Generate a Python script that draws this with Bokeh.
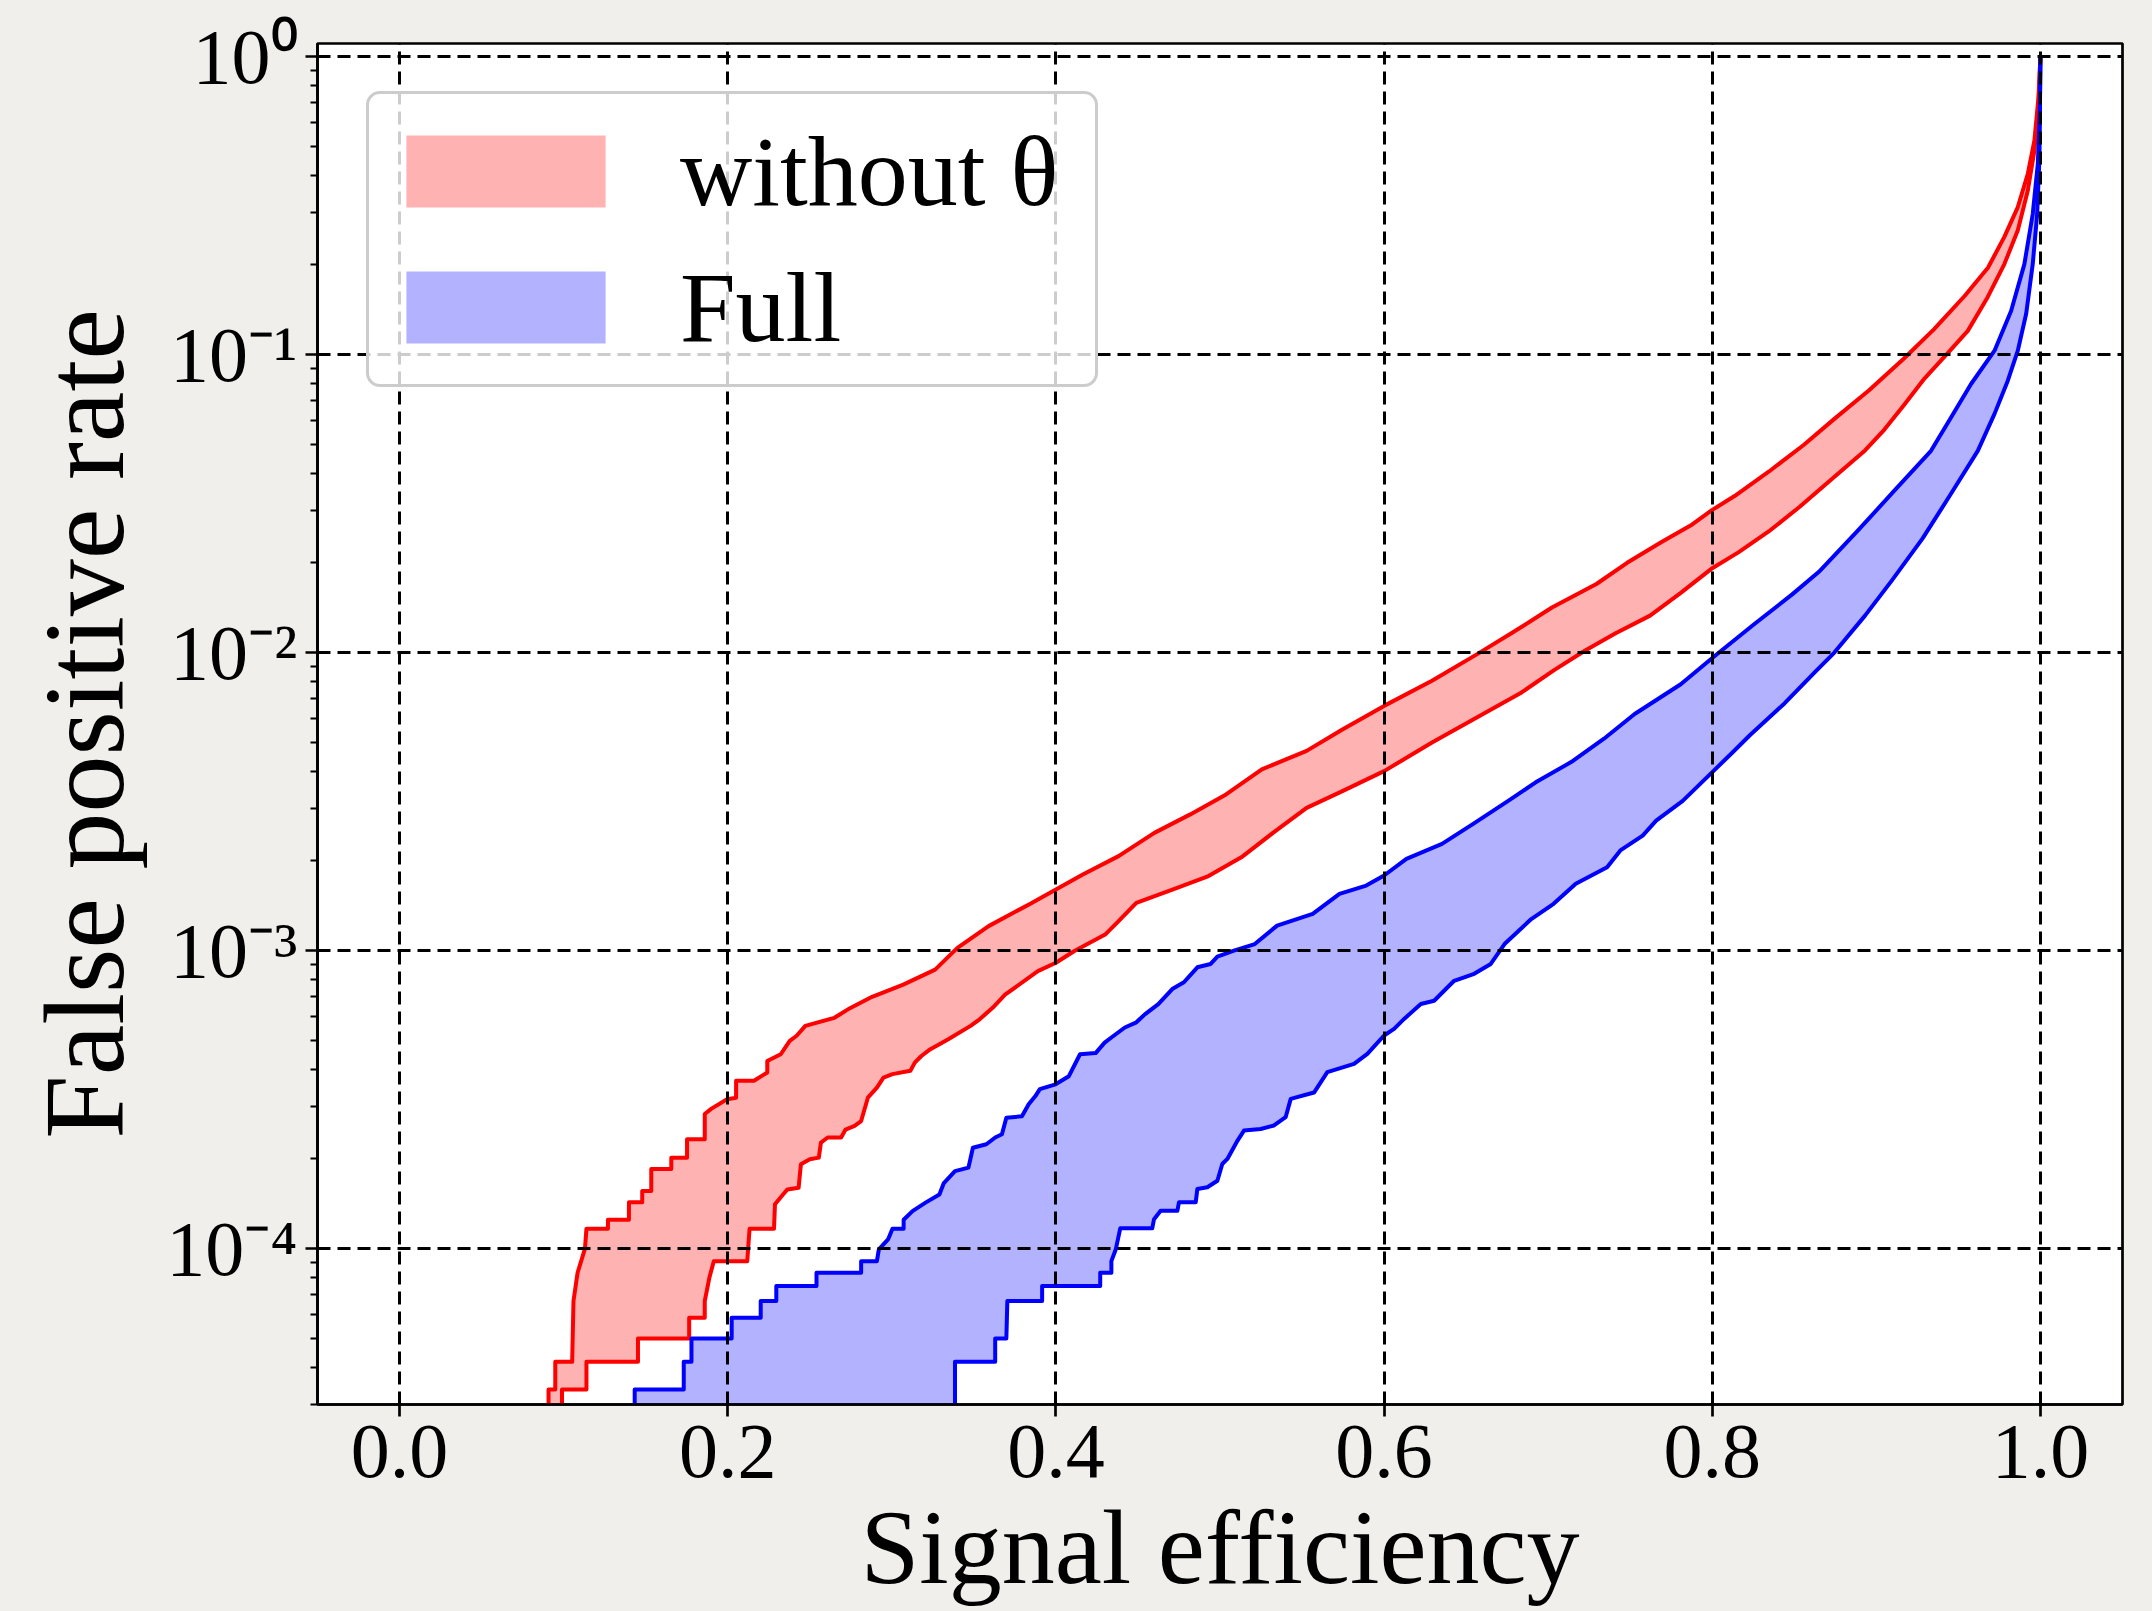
from bokeh.plotting import figure
from bokeh.models import (Range1d, FixedTicker, PrintfTickFormatter, Legend, LegendItem)
from bokeh.embed import file_html
from bokeh.resources import INLINE

# ---------------- data ----------------
# "without theta" band: upper (left) boundary
eff_red_upper = [0.0908, 0.0908, 0.0949, 0.0949, 0.1052, 0.1060, 0.1085, 0.1130, 0.1139, 0.1270,
                 0.1270, 0.1398, 0.1398, 0.1479, 0.1479, 0.1534, 0.1534, 0.1656, 0.1656, 0.1752,
                 0.1752, 0.1860, 0.1860, 0.1901, 0.1996, 0.2051, 0.2051, 0.2160, 0.2241, 0.2241,
                 0.2323, 0.2378, 0.2420, 0.2473, 0.2650, 0.2745, 0.2880, 0.3070, 0.3264, 0.3400,
                 0.3590, 0.3836, 0.4000, 0.4164, 0.4382, 0.4600, 0.4819, 0.5037, 0.5255, 0.5528,
                 0.5746, 0.6000, 0.6292, 0.6565, 0.6783, 0.7023, 0.7294, 0.7481, 0.7691, 0.7878,
                 0.8000, 0.8136, 0.8346, 0.8557, 0.8744, 0.8954, 0.9165, 0.9352, 0.9539, 0.9680,
                 0.9780, 0.9862, 0.9923, 0.9963, 0.9988, 1.0]
fpr_red_upper = [2.5e-5, 3.37e-5, 3.37e-5, 4.17e-5, 4.17e-5, 6.67e-5, 8.3e-5, 1.0e-4, 1.166e-4, 1.166e-4,
                 1.25e-4, 1.25e-4, 1.43e-4, 1.43e-4, 1.56e-4, 1.56e-4, 1.85e-4, 1.85e-4, 2.02e-4, 2.02e-4,
                 2.33e-4, 2.33e-4, 2.83e-4, 2.95e-4, 3.17e-4, 3.21e-4, 3.66e-4, 3.66e-4, 3.9e-4, 4.26e-4,
                 4.49e-4, 4.98e-4, 5.18e-4, 5.59e-4, 5.95e-4, 6.41e-4, 7.0e-4, 7.69e-4, 8.63e-4, 1.021e-3,
                 1.208e-3, 1.429e-3, 1.603e-3, 1.799e-3, 2.075e-3, 2.483e-3, 2.864e-3, 3.342e-3, 4.055e-3, 4.677e-3,
                 5.521e-3, 6.622e-3, 8.04e-3, 9.86e-3, 1.167e-2, 1.416e-2, 1.698e-2, 2.0e-2, 2.35e-2, 2.69e-2,
                 3.01e-2, 3.35e-2, 4.05e-2, 4.97e-2, 6.08e-2, 7.57e-2, 9.66e-2, 0.1216, 0.1574, 0.1954,
                 0.248, 0.312, 0.404, 0.522, 0.729, 1.0]

# "without theta" band: lower (right) boundary
eff_red_lower = [0.0990, 0.0990, 0.1139, 0.1139, 0.1453, 0.1453, 0.1765, 0.1765, 0.1860, 0.1860,
                 0.1888, 0.1915, 0.2119, 0.2133, 0.2282, 0.2288, 0.2337, 0.2364, 0.2432, 0.2446,
                 0.2500, 0.2555, 0.2568, 0.2609, 0.2691, 0.2718, 0.2773, 0.2813, 0.2854, 0.2909,
                 0.2949, 0.3004, 0.3113, 0.3140, 0.3180, 0.3235, 0.3290, 0.3344, 0.3480, 0.3535,
                 0.3616, 0.3690, 0.3890, 0.4000, 0.4110, 0.4300, 0.4382, 0.4490, 0.4710, 0.4930,
                 0.5130, 0.5337, 0.5528, 0.5746, 0.6000, 0.6292, 0.6565, 0.6838, 0.7036, 0.7223,
                 0.7411, 0.7621, 0.7808, 0.8000, 0.8159, 0.8346, 0.8533, 0.8720, 0.8931, 0.9049,
                 0.9171, 0.9293, 0.9435, 0.9557, 0.9679, 0.9780, 0.9862, 0.9923, 0.9963, 0.9988, 1.0]
fpr_red_lower = [2.5e-5, 3.37e-5, 3.37e-5, 4.17e-5, 4.17e-5, 5.0e-5, 5.0e-5, 5.86e-5, 5.86e-5, 6.67e-5,
                 7.98e-5, 9.08e-5, 9.08e-5, 1.166e-4, 1.166e-4, 1.41e-4, 1.52e-4, 1.58e-4, 1.60e-4, 1.92e-4,
                 1.995e-4, 2.02e-4, 2.27e-4, 2.36e-4, 2.36e-4, 2.51e-4, 2.58e-4, 2.68e-4, 3.21e-4, 3.47e-4,
                 3.75e-4, 3.85e-4, 3.95e-4, 4.21e-4, 4.43e-4, 4.67e-4, 4.85e-4, 5.04e-4, 5.59e-4, 5.88e-4,
                 6.44e-4, 7.11e-4, 8.53e-4, 9.10e-4, 9.95e-4, 1.132e-3, 1.256e-3, 1.445e-3, 1.603e-3, 1.778e-3,
                 2.056e-3, 2.518e-3, 3.013e-3, 3.428e-3, 4.0e-3, 4.99e-3, 6.05e-3, 7.35e-3, 8.73e-3, 1.014e-2,
                 1.161e-2, 1.33e-2, 1.585e-2, 1.919e-2, 2.168e-2, 2.553e-2, 3.083e-2, 3.784e-2, 4.764e-2, 5.6e-2,
                 6.8e-2, 8.3e-2, 0.101, 0.120, 0.156, 0.201, 0.261, 0.355, 0.483, 0.693, 1.0]

# "Full" band: upper (left) boundary
eff_blue_upper = [0.1433, 0.1433, 0.1732, 0.1732, 0.1779, 0.1779, 0.2024, 0.2024, 0.2201, 0.2201,
                  0.2296, 0.2296, 0.2541, 0.2541, 0.2813, 0.2813, 0.2909, 0.2921, 0.2977, 0.3004,
                  0.3072, 0.3072, 0.3126, 0.3208, 0.3290, 0.3317, 0.3385, 0.3467, 0.3494, 0.3576,
                  0.3630, 0.3671, 0.3698, 0.3793, 0.3834, 0.3875, 0.3902, 0.3998, 0.4079, 0.4147,
                  0.4242, 0.4297, 0.4338, 0.4420, 0.4487, 0.4542, 0.4624, 0.4709, 0.4780, 0.4862,
                  0.4943, 0.4984, 0.5085, 0.5212, 0.5348, 0.5565, 0.5728, 0.5891, 0.6000, 0.6136,
                  0.6353, 0.6543, 0.6761, 0.6924, 0.7140, 0.7340, 0.7527, 0.7808, 0.8000, 0.8253,
                  0.8487, 0.8650, 0.8884, 0.9118, 0.9333, 0.9455, 0.9577, 0.9720, 0.9821, 0.9902,
                  0.9953, 0.9984, 0.9996, 1.0]
fpr_blue_upper = [2.5e-5, 3.37e-5, 3.37e-5, 4.17e-5, 4.17e-5, 5.0e-5, 5.0e-5, 5.86e-5, 5.86e-5, 6.67e-5,
                  6.67e-5, 7.5e-5, 7.5e-5, 8.3e-5, 8.3e-5, 9.08e-5, 9.08e-5, 9.95e-5, 1.074e-4, 1.166e-4,
                  1.166e-4, 1.25e-4, 1.337e-4, 1.43e-4, 1.52e-4, 1.66e-4, 1.82e-4, 1.87e-4, 2.18e-4, 2.24e-4,
                  2.36e-4, 2.42e-4, 2.75e-4, 2.78e-4, 3.05e-4, 3.25e-4, 3.43e-4, 3.56e-4, 3.79e-4, 4.49e-4,
                  4.53e-4, 4.91e-4, 5.11e-4, 5.52e-4, 5.73e-4, 6.11e-4, 6.61e-4, 7.43e-4, 7.83e-4, 8.79e-4,
                  9.02e-4, 9.55e-4, 1.0e-3, 1.052e-3, 1.213e-3, 1.327e-3, 1.549e-3, 1.652e-3, 1.786e-3, 2.032e-3,
                  2.28e-3, 2.661e-3, 3.19e-3, 3.67e-3, 4.29e-3, 5.14e-3, 6.22e-3, 7.83e-3, 9.59e-3, 1.242e-2,
                  1.567e-2, 1.866e-2, 2.553e-2, 3.532e-2, 4.75e-2, 6.15e-2, 7.96e-2, 0.103, 0.140, 0.201,
                  0.296, 0.437, 0.643, 1.0]

# "Full" band: lower (right) boundary
eff_blue_lower = [0.3385, 0.3385, 0.3630, 0.3630, 0.3698, 0.3704, 0.3916, 0.3916, 0.4270, 0.4270,
                  0.4338, 0.4338, 0.4365, 0.4392, 0.4587, 0.4598, 0.4638, 0.4740, 0.4750, 0.4852,
                  0.4862, 0.4923, 0.4984, 0.5014, 0.5045, 0.5106, 0.5146, 0.5248, 0.5329, 0.5400,
                  0.5431, 0.5573, 0.5654, 0.5817, 0.5898, 0.6000, 0.6061, 0.6122, 0.6224, 0.6305,
                  0.6427, 0.6549, 0.6650, 0.6734, 0.6897, 0.7033, 0.7168, 0.7359, 0.7440, 0.7576,
                  0.7658, 0.7820, 0.8000, 0.8120, 0.8229, 0.8440, 0.8627, 0.8744, 0.8931, 0.9095,
                  0.9282, 0.9446, 0.9618, 0.9720, 0.9801, 0.9862, 0.9913, 0.9953, 0.9980, 0.9994, 1.0]
fpr_blue_lower = [2.5e-5, 4.17e-5, 4.17e-5, 5.0e-5, 5.0e-5, 6.67e-5, 6.67e-5, 7.5e-5, 7.5e-5, 8.3e-5,
                  8.3e-5, 9.08e-5, 9.95e-5, 1.17e-4, 1.17e-4, 1.256e-4, 1.34e-4, 1.34e-4, 1.43e-4, 1.43e-4,
                  1.585e-4, 1.607e-4, 1.69e-4, 1.923e-4, 2.0e-4, 2.3e-4, 2.49e-4, 2.52e-4, 2.59e-4, 2.76e-4,
                  3.18e-4, 3.34e-4, 3.91e-4, 4.17e-4, 4.5e-4, 5.19e-4, 5.46e-4, 5.9e-4, 6.62e-4, 6.79e-4,
                  7.92e-4, 8.36e-4, 9.02e-4, 1.052e-3, 1.276e-3, 1.435e-3, 1.675e-3, 1.905e-3, 2.168e-3, 2.432e-3,
                  2.73e-3, 3.18e-3, 3.97e-3, 4.6e-3, 5.28e-3, 6.75e-3, 8.61e-3, 1.0e-2, 1.33e-2, 1.746e-2,
                  2.415e-2, 3.35e-2, 4.75e-2, 6.32e-2, 8.17e-2, 0.103, 0.137, 0.201, 0.296, 0.459, 1.0]

series_labels = ["without θ", "Full"]
x_ticks = [0.0, 0.2, 0.4, 0.6, 0.8, 1.0]
y_ticks = [1e-4, 1e-3, 1e-2, 1e-1, 1.0]
y_tick_labels = ["10⁻⁴", "10⁻³", "10⁻²", "10⁻¹", "10⁰"]
y_minor_ticks = [m * t for t in [1e-5, 1e-4, 1e-3, 1e-2, 1e-1] for m in range(2, 10)]

# ---------------- figure ----------------
FONT = "Liberation Serif"
p = figure(width=2152, height=1611,
           x_range=Range1d(-0.05, 1.05), y_range=Range1d(3.0e-5, 1.105),
           y_axis_type="log", output_backend="svg", toolbar_location=None,
           min_border_left=317, min_border_right=30, min_border_top=43, min_border_bottom=207,
           background_fill_color="white", border_fill_color="#f0efeb",
           outline_line_color="black", outline_line_width=2.7)

red_band_x = eff_red_upper + eff_red_lower[::-1]
red_band_y = fpr_red_upper + fpr_red_lower[::-1]
blue_band_x = eff_blue_upper + eff_blue_lower[::-1]
blue_band_y = fpr_blue_upper + fpr_blue_lower[::-1]

r_red = p.patch(red_band_x, red_band_y, fill_color="#ff0000", fill_alpha=0.3, line_color=None)
r_blue = p.patch(blue_band_x, blue_band_y, fill_color="#0000ff", fill_alpha=0.3, line_color=None)

for xs, ys, c in [(eff_red_upper, fpr_red_upper, "#ff0000"), (eff_red_lower, fpr_red_lower, "#ff0000"),
                  (eff_blue_upper, fpr_blue_upper, "#0000ff"), (eff_blue_lower, fpr_blue_lower, "#0000ff")]:
    p.line(xs, ys, line_color=c, line_width=4, line_join="round")

# axes
p.xaxis.ticker = FixedTicker(ticks=x_ticks)
p.xaxis.formatter = PrintfTickFormatter(format="%.1f")
p.yaxis.ticker = FixedTicker(ticks=y_ticks, minor_ticks=y_minor_ticks)
p.yaxis.major_label_overrides = {t: s for t, s in zip(y_ticks, y_tick_labels)}

p.xaxis.axis_label = "Signal efficiency"
p.yaxis.axis_label = "False positive rate"
for ax in [p.xaxis[0], p.yaxis[0]]:
    ax.axis_line_color = "black"
    ax.axis_line_width = 2.7
    ax.major_tick_line_color = "black"
    ax.major_tick_line_width = 2.7
    ax.major_tick_out = 12
    ax.major_tick_in = 0
    ax.major_label_text_font = FONT
    ax.major_label_text_font_size = "78px"
    ax.major_label_text_color = "black"
    ax.axis_label_text_font = FONT
    ax.axis_label_text_font_style = "normal"
    ax.axis_label_text_color = "black"

p.xaxis.minor_tick_line_color = None
p.xaxis.major_label_standoff = 9
p.xaxis.axis_label_standoff = 9
p.xaxis.axis_label_text_font_size = "106px"

p.yaxis.minor_tick_line_color = "black"
p.yaxis.minor_tick_line_width = 2
p.yaxis.minor_tick_out = 7
p.yaxis.minor_tick_in = 0
p.yaxis.major_label_standoff = 8
p.yaxis.axis_label_standoff = 15
p.yaxis.axis_label_text_font_size = "114px"

# grid (drawn above the bands, below the legend)
for g in [p.xgrid[0], p.ygrid[0]]:
    g.grid_line_color = "black"
    g.grid_line_width = 3
    g.grid_line_dash = "13 7"
    g.level = "guide"
p.ygrid.minor_grid_line_color = None

# legend
legend = Legend(items=[LegendItem(label=series_labels[0], renderers=[r_red]),
                       LegendItem(label=series_labels[1], renderers=[r_blue])],
                location=(49, 1017), orientation="vertical",
                glyph_width=249, glyph_height=90, label_standoff=50,
                label_width=403, label_height=130,
                padding=12, spacing=6,
                label_text_font=FONT, label_text_font_size="100px", label_text_color="black",
                background_fill_color="white", background_fill_alpha=0.8,
                border_line_color="#cccccc", border_line_width=3, border_line_alpha=1.0)
if "border_radius" in Legend.properties():
    legend.border_radius = 14
p.add_layout(legend)

html = file_html(p, INLINE)
html = html.replace("<head>", "<head><style>html,body{background:#f0efeb;}</style>", 1)
open("out.html", "w").write(html)
